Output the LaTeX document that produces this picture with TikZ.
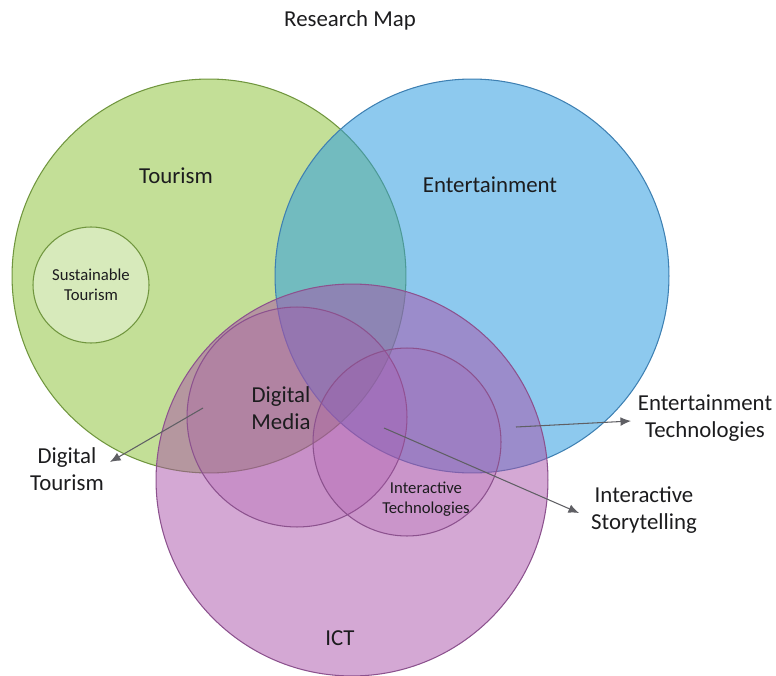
\documentclass[tikz,border=0pt]{standalone}
\usepackage{fontspec}
\setmainfont{Carlito}
\usetikzlibrary{arrows.meta}

\definecolor{tourgreen}{RGB}{146,196,66}
\definecolor{tourline}{RGB}{112,150,62}
\definecolor{entblue}{RGB}{48,157,224}
\definecolor{entline}{RGB}{62,128,178}
\definecolor{ictpurple}{RGB}{169,81,169}
\definecolor{ictline}{RGB}{140,82,142}
\definecolor{labeltext}{RGB}{28,28,30}
\definecolor{arrowgray}{RGB}{95,95,100}

\tikzset{
	set/.style={circle, inner sep=0pt, draw, line width=0.6pt},
	label/.style={text=labeltext, font=\fontsize{13}{15}\selectfont, align=center, inner sep=0pt},
	smalllabel/.style={text=labeltext, font=\fontsize{9.5}{11.3}\selectfont, align=center, inner sep=0pt},
	pointer/.style={draw=arrowgray, line width=0.6pt, -{Latex[length=6pt,width=5pt]}},
}

\begin{document}
\begin{tikzpicture}[x=0.02cm, y=-0.02cm]
	\useasboundingbox (0,0) rectangle (776,675);
	
	% the three main fields
	\node[set, draw=tourline, fill=tourgreen, fill opacity=0.55, minimum size=7.88cm] (tourism) at (209,276) {};
	\node[set, draw=entline, fill=entblue, fill opacity=0.55, minimum size=7.88cm] (entertainment) at (472,276) {};
	\node[set, draw=ictline, fill=ictpurple, fill opacity=0.5, minimum size=7.84cm] (ict) at (352,480) {};
	
	% sub-fields
	\node[set, draw=tourline, fill=white, fill opacity=0.35, minimum size=2.32cm] (sustainable) at (91,285) {};
	\node[set, draw=ictline, fill=ictpurple, fill opacity=0.28, minimum size=4.4cm] (media) at (297,417) {};
	\node[set, draw=ictline, fill=ictpurple, fill opacity=0.22, minimum size=3.76cm] (interactive) at (407,442) {};
	
	% labels
	\node[label] (title) at (350,20) {Research Map};
	\node[label] (tourismlbl) at (176,176) {Tourism};
	\node[label] (entlbl) at (490,185) {Entertainment};
	\node[smalllabel] (sustlbl) at (91,285) {Sustainable\\Tourism};
	\node[label] (medialbl) at (281,408) {Digital\\Media};
	\node[smalllabel] (interlbl) at (426,499) {Interactive\\Technologies};
	\node[label] (ictlbl) at (340,638) {ICT};
	\node[label] (dtlbl) at (67,469) {Digital\\Tourism};
	\node[label] (etlbl) at (705,418) {Entertainment\\Technologies};
	\node[label] (islbl) at (644,510) {Interactive\\Storytelling};
	
	% pointers out to the overlap names
	\coordinate (dtfrom) at (203,408);
	\coordinate (dtto) at (110,462);
	\coordinate (etfrom) at (516,427);
	\coordinate (etto) at (631,421);
	\coordinate (isfrom) at (384,428);
	\coordinate (isto) at (579,513);
	
	\draw[pointer] (dtfrom) -- (dtto);
	\draw[pointer] (etfrom) -- (etto);
	\draw[pointer] (isfrom) -- (isto);
\end{tikzpicture}
\end{document}
